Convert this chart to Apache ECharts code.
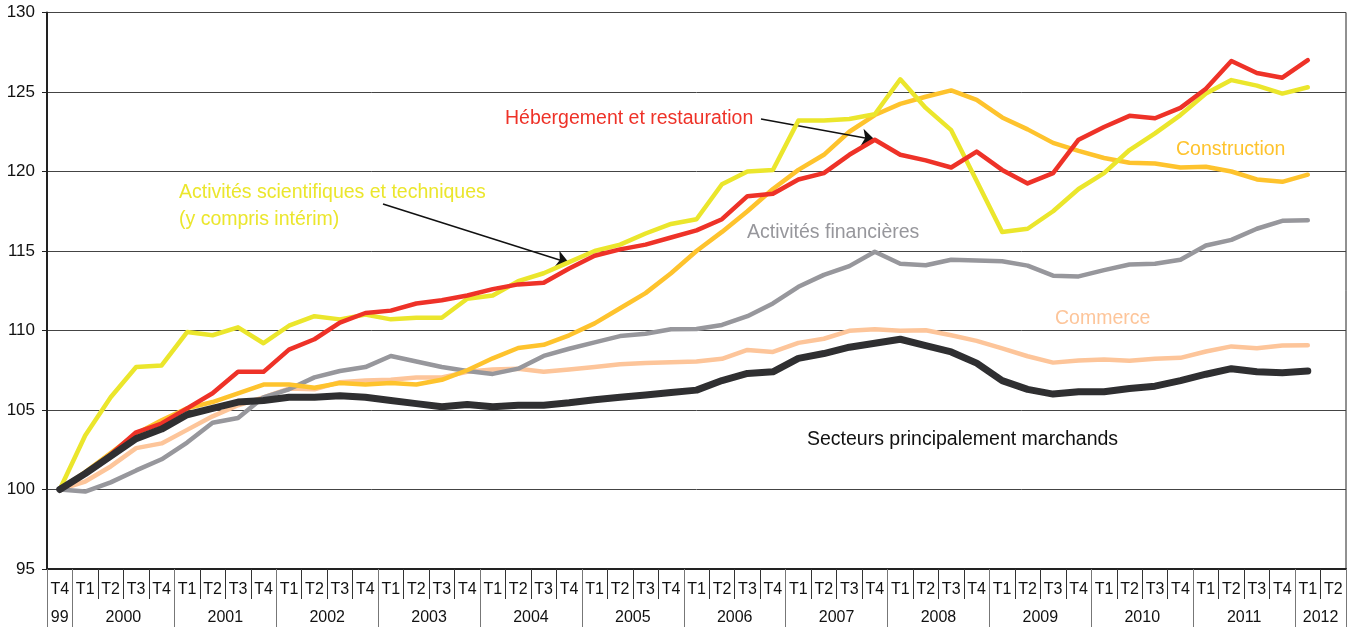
<!DOCTYPE html>
<html>
<head>
<meta charset="utf-8">
<script src="https://cdn.jsdelivr.net/npm/echarts@6/dist/echarts.min.js"></script>
<style>
  html, body { margin: 0; padding: 0; background: #fff; }
  #chart { width: 1358px; height: 627px; }
</style>
</head>
<body>
<div id="chart"></div>
<script>
// trimestres, de T4 1999 à T2 2012
var quarters = [
  "T4 99",
  "T1 2000", "T2 2000", "T3 2000", "T4 2000",
  "T1 2001", "T2 2001", "T3 2001", "T4 2001",
  "T1 2002", "T2 2002", "T3 2002", "T4 2002",
  "T1 2003", "T2 2003", "T3 2003", "T4 2003",
  "T1 2004", "T2 2004", "T3 2004", "T4 2004",
  "T1 2005", "T2 2005", "T3 2005", "T4 2005",
  "T1 2006", "T2 2006", "T3 2006", "T4 2006",
  "T1 2007", "T2 2007", "T3 2007", "T4 2007",
  "T1 2008", "T2 2008", "T3 2008", "T4 2008",
  "T1 2009", "T2 2009", "T3 2009", "T4 2009",
  "T1 2010", "T2 2010", "T3 2010", "T4 2010",
  "T1 2011", "T2 2011", "T3 2011", "T4 2011",
  "T1 2012", "T2 2012"
];

// libellés des années (2e ligne de l'axe)
var years = ["99", "2000", "2001", "2002", "2003", "2004", "2005", "2006", "2007", "2008", "2009", "2010", "2011", "2012"];
var yearCenters = [0.5, 3, 7, 11, 15, 19, 23, 27, 31, 35, 39, 43, 47, 50];
var yearBounds = [0, 1, 5, 9, 13, 17, 21, 25, 29, 33, 37, 41, 45, 49, 51];

var yTicks = [95, 100, 105, 110, 115, 120, 125, 130];

var marchands = [100, 101.0, 102.1, 103.2, 103.8, 104.7, 105.1, 105.5, 105.6, 105.8,
  105.8, 105.9, 105.8, 105.6, 105.4, 105.2, 105.35, 105.2, 105.3, 105.3,
  105.45, 105.65, 105.8, 105.95, 106.1, 106.25, 106.85, 107.3, 107.4, 108.25,
  108.55, 108.95, 109.2, 109.45, 109.05, 108.65, 107.95, 106.85, 106.3, 106.0,
  106.15, 106.15, 106.35, 106.5, 106.85, 107.25, 107.6, 107.4, 107.35, 107.45];

var hebergement = [100, 101.0, 102.2, 103.6, 104.15, 105.1, 106.05, 107.4, 107.4, 108.8,
  109.45, 110.5, 111.1, 111.25, 111.7, 111.9, 112.2, 112.6, 112.9, 113.0,
  113.9, 114.7, 115.1, 115.4, 115.85, 116.3, 117.0, 118.45, 118.6, 119.5,
  119.9, 121.05, 122.0, 121.05, 120.7, 120.25, 121.25, 120.1, 119.25, 119.9,
  122.0, 122.8, 123.5, 123.35, 124.0, 125.2, 126.95, 126.2, 125.9, 127.0];

var scientifiques = [100, 103.4, 105.8, 107.7, 107.8, 109.9, 109.7, 110.2, 109.2, 110.3,
  110.9, 110.7, 111.0, 110.7, 110.8, 110.8, 112.0, 112.2, 113.1, 113.6,
  114.3, 115.0, 115.4, 116.1, 116.7, 117.0, 119.2, 120.0, 120.1, 123.2,
  123.2, 123.3, 123.6, 125.8, 124.0, 122.6, 119.4, 116.2, 116.4, 117.5,
  118.9, 119.9, 121.35, 122.4, 123.55, 124.9, 125.75, 125.4, 124.9, 125.3];

var construction = [100, 101.1, 102.3, 103.5, 104.35, 105.1, 105.5, 106.05, 106.6, 106.6,
  106.4, 106.7, 106.6, 106.7, 106.6, 106.9, 107.5, 108.25, 108.9, 109.1,
  109.7, 110.45, 111.4, 112.35, 113.6, 115.0, 116.2, 117.5, 118.9, 120.1,
  121.05, 122.5, 123.55, 124.25, 124.7, 125.1, 124.5, 123.4, 122.65, 121.8,
  121.3, 120.85, 120.55, 120.5, 120.25, 120.3, 120.0, 119.5, 119.35, 119.8];

var financieres = [100, 99.87, 100.45, 101.2, 101.9, 102.95, 104.2, 104.5, 105.8, 106.3,
  107.05, 107.45, 107.7, 108.4, 108.05, 107.7, 107.45, 107.27, 107.6, 108.4,
  108.85, 109.25, 109.65, 109.8, 110.08, 110.1, 110.35, 110.9, 111.7, 112.75,
  113.5, 114.05, 114.95, 114.2, 114.1, 114.45, 114.4, 114.35, 114.08, 113.45,
  113.4, 113.8, 114.15, 114.2, 114.45, 115.35, 115.7, 116.4, 116.9, 116.93];

var commerce = [100, 100.5, 101.45, 102.6, 102.9, 103.75, 104.6, 105.3, 105.8, 106.35,
  106.3, 106.75, 106.85, 106.9, 107.05, 107.05, 107.4, 107.55, 107.6, 107.4,
  107.55, 107.7, 107.88, 107.95, 108.0, 108.05, 108.22, 108.78, 108.65, 109.22,
  109.48, 109.98, 110.08, 109.98, 110.02, 109.7, 109.35, 108.88, 108.38, 107.98,
  108.12, 108.18, 108.1, 108.22, 108.28, 108.68, 109.0, 108.88, 109.05, 109.07];

var FONT = "Liberation Sans, Arial, Helvetica, sans-serif";

var chart = echarts.init(document.getElementById("chart"));

function makeLine(name, data, color, width, z) {
  return {
    name: name,
    type: "line",
    data: data,
    xAxisIndex: 0,
    yAxisIndex: 0,
    symbol: "none",
    z: z,
    lineStyle: { color: color, width: width, cap: "round", join: "round" },
    emphasis: { disabled: true },
    animation: false
  };
}

var series = [
  makeLine("Commerce", commerce, "#fdc59a", 4.5, 2),
  makeLine("Activités financières", financieres, "#97979c", 4.5, 3),
  makeLine("Construction", construction, "#fec32d", 4.5, 4),
  makeLine("Activités scientifiques et techniques", scientifiques, "#ebe62c", 4.5, 5),
  makeLine("Hébergement et restauration", hebergement, "#ee3228", 4.5, 6),
  makeLine("Secteurs principalement marchands", marchands, "#2f2f31", 7, 7)
];

// flèches des annotations
series[4].markLine = {
  silent: true,
  symbol: ["none", "arrow"],
  symbolSize: 13,
  label: { show: false },
  lineStyle: { color: "#111", width: 1.5, type: "solid" },
  data: [[{ x: 761, y: 119 }, { coord: [31.8, 122.0] }]]
};
series[3].markLine = {
  silent: true,
  symbol: ["none", "arrow"],
  symbolSize: 13,
  label: { show: false },
  lineStyle: { color: "#111", width: 1.5, type: "solid" },
  data: [[{ x: 383, y: 204 }, { coord: [20.25, 114.25] }]]
};

var option = {
  backgroundColor: "#fff",
  animation: false,
  grid: {
    left: 47,
    right: 12,
    top: 12.5,
    bottom: 58,
    show: true,
    borderColor: "#222",
    borderWidth: 1
  },
  xAxis: [
    {
      type: "category",
      data: quarters,
      boundaryGap: true,
      axisLine: { lineStyle: { color: "#222", width: 2 } },
      axisTick: { show: true, interval: 0, length: 30, lineStyle: { color: "#333", width: 1 } },
      axisLabel: {
        interval: 0,
        margin: 13,
        color: "#111",
        fontFamily: FONT,
        fontSize: 16,
        formatter: function (v) { return v.split(" ")[0]; }
      },
      splitLine: { show: false }
    },
    {
      type: "value",
      min: 0,
      max: 51,
      position: "bottom",
      axisLine: { show: false },
      splitLine: { show: false },
      axisTick: {
        show: true,
        customValues: yearBounds,
        length: 58,
        lineStyle: { color: "#777", width: 1 }
      },
      axisLabel: {
        customValues: yearCenters,
        margin: 41,
        color: "#111",
        fontFamily: FONT,
        fontSize: 16,
        formatter: function (v) {
          var k = yearCenters.indexOf(v);
          return k >= 0 ? years[k] : "";
        }
      }
    }
  ],
  yAxis: {
    type: "value",
    min: yTicks[0],
    max: yTicks[yTicks.length - 1],
    interval: 5,
    axisLine: { show: true, lineStyle: { color: "#222", width: 2 } },
    axisTick: { show: true, length: 5, lineStyle: { color: "#222" } },
    axisLabel: { color: "#111", fontFamily: FONT, fontSize: 17, margin: 12 },
    splitLine: { show: true, lineStyle: { color: "#444", width: 1 } }
  },
  graphic: [
    { type: "text", left: 505, top: 109, style: { text: "Hébergement et restauration", fill: "#ee3228", font: "19.5px " + FONT } },
    { type: "text", left: 179, top: 179, style: { text: "Activités scientifiques et techniques\n(y compris intérim)", fill: "#ebe62c", font: "19.5px " + FONT, lineHeight: 27 } },
    { type: "text", left: 1176, top: 140, style: { text: "Construction", fill: "#fec32d", font: "19.5px " + FONT } },
    { type: "text", left: 747, top: 223, style: { text: "Activités financières", fill: "#97979c", font: "19.5px " + FONT } },
    { type: "text", left: 1055, top: 309, style: { text: "Commerce", fill: "#fdc59a", font: "19.5px " + FONT } },
    { type: "text", left: 807, top: 430, style: { text: "Secteurs principalement marchands", fill: "#111", font: "19.5px " + FONT } }
  ],
  series: series
};

chart.setOption(option);
</script>
</body>
</html>
